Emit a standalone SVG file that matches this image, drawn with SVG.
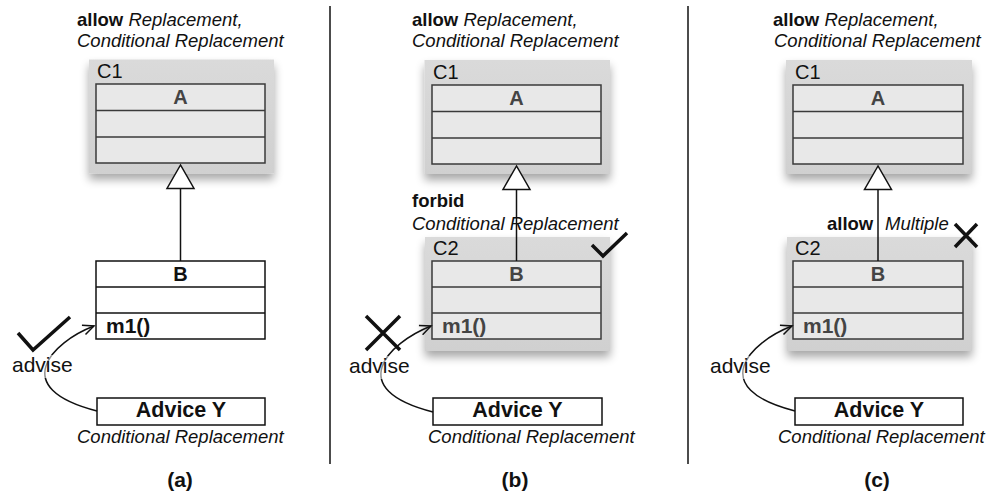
<svg xmlns="http://www.w3.org/2000/svg" width="988" height="496" viewBox="0 0 988 496">
<defs>
<style>
text{font-family:"Liberation Sans",Arial,Helvetica,sans-serif;fill:#111}
.ann{font-size:18.5px}
.it{font-style:italic}
.bd{font-weight:bold}
.pkg{fill:url(#pg);filter:url(#sh)}
.cls{fill:#e8e8e8;stroke:#3a3a3a;stroke-width:1.5}
.wcls{fill:#fff;stroke:#111;stroke-width:1.5}
.pl{font-size:20px}
.cn{font-size:20px;font-weight:bold;fill:#444;text-anchor:middle}
.cnb{font-size:20px;font-weight:bold;fill:#111;text-anchor:middle}
.m1{font-size:21px;font-weight:bold;fill:#444}
.adv{font-size:21.5px;font-weight:bold;text-anchor:middle}
.advise{font-size:21px}
.cap{font-size:21px;font-weight:bold;text-anchor:middle}
.ln{stroke:#111;stroke-width:1.5;fill:none}
.tri{fill:#fff;stroke:#111;stroke-width:1.5}
.mark{stroke:#111;stroke-width:3.5;fill:none}
.sep{stroke:#111;stroke-width:1.5}
</style>
<linearGradient id="pg" x1="0" y1="0" x2="0" y2="1">
<stop offset="0" stop-color="#dadada"/>
<stop offset="1" stop-color="#d0d0d0"/>
</linearGradient>
<filter id="sh" x="-20%" y="-20%" width="140%" height="150%">
<feGaussianBlur in="SourceAlpha" stdDeviation="5"/>
<feOffset dy="6" result="b"/>
<feComponentTransfer><feFuncA type="linear" slope="0.35"/></feComponentTransfer>
<feMerge><feMergeNode/><feMergeNode in="SourceGraphic"/></feMerge>
</filter>
<marker id="open" markerUnits="userSpaceOnUse" markerWidth="14" markerHeight="12" viewBox="-12 -6 14 12" refX="0" refY="0" orient="auto">
<path d="M -11 -5 L 0 0 L -11 5" fill="none" stroke="#111" stroke-width="1.5"/>
</marker>
</defs>
<rect width="988" height="496" fill="#fff"/>

<g id="separators">
<line class="sep" x1="330" y1="6" x2="330" y2="464"/>
<line class="sep" x1="688" y1="6" x2="688" y2="464"/>
</g>

<!-- Panel (a) -->
<g id="a-annotation">
<text class="ann" x="77" y="26"><tspan class="bd">allow</tspan><tspan class="it"> Replacement,</tspan></text>
<text class="ann it" x="77" y="47">Conditional Replacement</text>
</g>
<g id="a-C1">
<rect class="pkg" x="89" y="59.5" width="185" height="114"/>
<text class="pl" x="97" y="78">C1</text>
<rect class="cls" x="96" y="84" width="169" height="79"/>
<line class="cls" x1="96" y1="110.5" x2="265" y2="110.5"/>
<line class="cls" x1="96" y1="137" x2="265" y2="137"/>
<text class="cn" x="180.5" y="104">A</text>
</g>
<g id="a-B">
<rect class="wcls" x="96" y="261" width="169" height="78"/>
<line class="wcls" x1="96" y1="287" x2="265" y2="287"/>
<line class="wcls" x1="96" y1="313" x2="265" y2="313"/>
<text class="cnb" x="180.5" y="281">B</text>
<text class="m1" x="106" y="333" style="fill:#111">m1()</text>
</g>
<g id="a-advice">
<rect class="wcls" x="97" y="398" width="168" height="27"/>
<text class="adv" x="181" y="417">Advice Y</text>
<text class="ann it" x="77" y="443">Conditional Replacement</text>
</g>
<text class="cap" x="180" y="487">(a)</text>

<!-- Panel (b) -->
<g id="b-annotation">
<text class="ann" x="412" y="26"><tspan class="bd">allow</tspan><tspan class="it"> Replacement,</tspan></text>
<text class="ann it" x="412" y="47">Conditional Replacement</text>
</g>
<g id="b-C1">
<rect class="pkg" x="424.5" y="60" width="185.5" height="114"/>
<text class="pl" x="433" y="79">C1</text>
<rect class="cls" x="432" y="85" width="169" height="79"/>
<line class="cls" x1="432" y1="111.5" x2="601" y2="111.5"/>
<line class="cls" x1="432" y1="138" x2="601" y2="138"/>
<text class="cn" x="516.5" y="105">A</text>
</g>
<g id="b-C2">
<rect class="pkg" x="425" y="237" width="185" height="114"/>
<text class="pl" x="433" y="255">C2</text>
<rect class="cls" x="432" y="261" width="169" height="78"/>
<line class="cls" x1="432" y1="287" x2="601" y2="287"/>
<line class="cls" x1="432" y1="313" x2="601" y2="313"/>
<text class="cn" x="516.5" y="281">B</text>
<text class="m1" x="442" y="333">m1()</text>
</g>
<g id="b-forbid">
<text class="ann bd" x="412" y="207">forbid</text>
<text class="ann it" x="412" y="230">Conditional Replacement</text>
</g>
<g id="b-advice">
<rect class="wcls" x="433" y="398" width="169" height="27"/>
<text class="adv" x="517.5" y="417">Advice Y</text>
<text class="ann it" x="428" y="443">Conditional Replacement</text>
</g>
<text class="cap" x="515" y="487">(b)</text>

<!-- Panel (c) -->
<g id="c-annotation">
<text class="ann" x="773" y="26"><tspan class="bd">allow</tspan><tspan class="it"> Replacement,</tspan></text>
<text class="ann it" x="774" y="47">Conditional Replacement</text>
</g>
<g id="c-C1">
<rect class="pkg" x="786" y="60" width="186" height="114"/>
<text class="pl" x="795" y="79">C1</text>
<rect class="cls" x="793" y="85" width="170" height="79"/>
<line class="cls" x1="793" y1="111.5" x2="963" y2="111.5"/>
<line class="cls" x1="793" y1="138" x2="963" y2="138"/>
<text class="cn" x="878" y="105">A</text>
</g>
<g id="c-C2">
<rect class="pkg" x="787" y="237" width="185" height="114"/>
<text class="pl" x="795" y="255">C2</text>
<rect class="cls" x="793" y="261" width="170" height="78"/>
<line class="cls" x1="793" y1="287" x2="963" y2="287"/>
<line class="cls" x1="793" y1="313" x2="963" y2="313"/>
<text class="cn" x="878" y="281">B</text>
<text class="m1" x="803" y="333">m1()</text>
</g>
<g id="c-multiple">
<text class="ann bd" x="827" y="230">allow</text>
<text class="ann it" x="885" y="230">Multiple</text>
</g>
<g id="c-advice">
<rect class="wcls" x="795" y="398" width="168" height="27"/>
<text class="adv" x="879" y="417">Advice Y</text>
<text class="ann it" x="778" y="443">Conditional Replacement</text>
</g>
<text class="cap" x="877" y="487">(c)</text>

<!-- Connectors -->
<g id="connectors">
<line class="ln" x1="180.5" y1="188" x2="180.5" y2="261"/>
<polygon class="tri" points="180.5,165 167,188.5 194,188.5"/>
<line class="ln" x1="516.5" y1="189" x2="516.5" y2="261"/>
<polygon class="tri" points="516.5,166 503,189.5 530,189.5"/>
<line class="ln" x1="878" y1="189" x2="878" y2="261"/>
<polygon class="tri" points="878,166 864.5,189.5 891.5,189.5"/>
<path class="ln" d="M 97 411 C 7 388, 52 342, 94 326" marker-end="url(#open)"/>
<path class="ln" d="M 433 412 C 343 389, 388 343, 431 326" marker-end="url(#open)"/>
<path class="ln" d="M 795 411 C 705 388, 750 342, 792 326" marker-end="url(#open)"/>
</g>

<g id="advise-labels">
<rect x="11" y="355" width="64" height="23" fill="#fff" opacity="0.55"/>
<text class="advise" x="12" y="372">advise</text>
<rect x="348" y="356" width="64" height="23" fill="#fff" opacity="0.55"/>
<text class="advise" x="349" y="373">advise</text>
<rect x="709" y="356" width="64" height="23" fill="#fff" opacity="0.55"/>
<text class="advise" x="710" y="373">advise</text>
</g>

<g id="marks">
<polyline class="mark" points="18,333 33,350 70,317"/>
<polyline class="mark" points="592,245 603,256 627,233"/>
<path class="mark" d="M 366 316 L 400 350 M 400 316 L 366 350"/>
<path class="mark" d="M 955 224 L 977 247 M 977 224 L 955 247"/>
</g>
</svg>
